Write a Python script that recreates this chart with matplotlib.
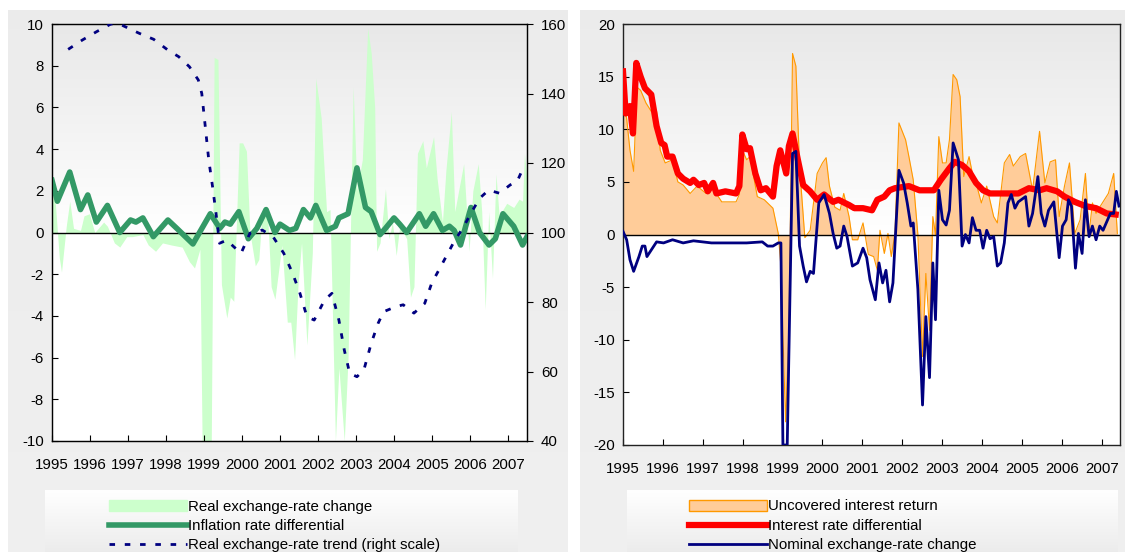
import matplotlib.pyplot as plt
import numpy as np
from matplotlib.lines import Line2D
from matplotlib.patches import Patch

plt.rcParams["font.family"] = ["Liberation Sans", "DejaVu Sans"]
plt.rcParams["axes.unicode_minus"] = False

# months since Jan 1995
YEARS = list(range(1995, 2008))

real_fx_m = [0, 1.1, 2.3, 3, 4.5, 5.6, 6.8, 9, 10.1, 11.8, 13.5, 16.3, 17.5, 19.7, 21.4, 23.6, 25.3, 28.7,
             30.4, 32.7, 34.9, 37.7, 41.1, 43.4, 45, 46.7, 47.4, 50.3, 51.2, 52.4, 53.5, 55.2, 56.3, 57.4,
             59.1, 60.2, 61.4, 62.5, 64.2, 65.3, 66.4, 68.1, 69.2, 70.4, 72.6, 74.3, 75.4, 76.6, 77.7, 78.8,
             80.5, 82.2, 83.3, 85, 86.7, 87.8, 89.5, 90.6, 92.3, 93.5, 95.1, 96.3, 98, 99.7, 100.8, 101.9,
             102.5, 103.6, 105.3, 106.4, 107.5, 108.7, 109.8, 112, 113.2, 114.3, 115.4, 117.1, 118.2, 120.5,
             121.6, 123.3, 124.4, 126.1, 127.2, 128.4, 130, 131.7, 132.9, 134.6, 135.7, 136.8, 137.9, 139.1,
             140.2, 141.3, 142.4, 143.6, 145.8, 147.5, 148.6, 149.2, 150]
real_fx = [2.4, 1.3, -1.2, -1.9, 0.3, 1.5, 0.2, 0.1, 0.8, 0.9, 0, 0.5, 0.3, -0.5, -0.7, -0.2, -0.2, -0.1,
           -0.6, -0.9, -0.5, -0.6, -0.7, -1.4, -1.7, -0.8, -10, -10, 8.4, 8.3, -2.5, -4.1, -3.1, -3.3,
           4.3, 4.3, 3.9, 0, -1.6, -1.3, 1.0, 0.8, -2.6, -3.2, -0.6, -4.3, -4.3, -6.1, -2.5, -0.5,
           -5.4, -1.0, 7.4, 5.5, 1.0, 1.1, -10, -6.5, -10, -6.0, 7.0, 2.0, 3.5, 9.8, 8.6, 6.0,
           -0.9, -0.5, 2.1, -0.3, 0.5, -1.1, 0.3, -0.3, -3.1, -2.6, 3.8, 4.4, 3.1, 4.6,
           2.6, 0.5, 3.0, 5.8, 1.0, 2.0, 3.3, -0.9, 2.0, 3.3, 1.0, -3.7, 1.0, -2.2,
           2.8, 0.6, 1.1, 1.4, 1.2, 1.6, 1.5, 3.8, 2.5]

infl_m = [0, 1.7, 5.6, 9, 11.3, 14, 17.5, 21.4, 24.8, 26.5, 28.7, 32, 36.6, 39.4, 44.5, 50, 53, 54.6, 56.3,
          59, 62, 64.7, 67.6, 70.4, 72, 75, 77, 79.4, 81.6, 83.3, 86.7, 89.5, 90.6, 93.5, 96.3, 99, 100.8,
          103.6, 105.3, 108, 109.8, 112, 116, 118, 120.5, 123.3, 125.5, 127, 129, 132.3, 135, 138, 140,
          142.4, 145.8, 148.6, 150]
infl = [2.5, 1.5, 2.9, 1.1, 1.8, 0.5, 1.3, 0.0, 0.6, 0.5, 0.7, -0.2, 0.6, 0.2, -0.55, 0.9, 0.2, 0.5, 0.4,
        1.0, -0.3, 0.2, 1.1, 0.0, 0.4, 0.1, 0.2, 1.1, 0.7, 1.3, 0.1, 0.3, 0.7, 0.9, 3.1, 1.2, 1.0,
        -0.1, 0.2, 0.7, 0.4, 0.0, 0.9, 0.3, 0.9, 0.1, 0.3, 0.1, -0.6, 1.2, 0.0, -0.6, -0.3,
        0.9, 0.3, -0.6, -0.2]

trend_m = [5.1, 9.6, 14.1, 18.6, 22, 27.6, 32.1, 36.6, 40, 43.4, 46.2, 47.3, 48.4, 49.5, 50.7, 51.8, 52.9,
           55.2, 57.4, 59.7, 62.5, 66.4, 69.8, 73.2, 76, 78.3, 80.5, 82.8, 86.1, 88.4, 90.6, 92.3, 94,
           96.3, 98.5, 100.8, 103, 104.7, 108.7, 110.9, 114.3, 117.7, 119.9, 123.3, 126.7, 130, 132.9,
           135.1, 137.9, 141.3, 144.7, 146.9, 149.2]
trend = [152.7, 155.4, 157.8, 160, 159.7, 157.3, 155.6, 152.5, 150.6, 147.7, 143.9, 140.0, 130.5, 120.9,
         113.2, 105.5, 96.9, 97.8, 95.9, 94.0, 99.8, 100.7, 98.8, 94.0, 88.2, 82.5, 75.8, 74.8, 80.6,
         82.5, 74.8, 66.2, 59.5, 58.5, 60.5, 68.1, 73.9, 77.2, 78.7, 79.2, 76.8, 79.6, 85.4, 91.1, 96.9,
         101.7, 106.5, 109.9, 112.2, 111.3, 113.7, 114.7, 119.4]

uir_m = [0, 1.1, 2.1, 3.2, 4.2, 5.3, 6.9, 8.5, 10.1, 11.2, 12.7, 14.9, 16.5, 18.1, 20.2, 22.3, 25, 26.6,
         29.7, 34, 35, 35.9, 37.2, 38.2, 40.4, 42.5, 45.1, 46.7, 47.5, 48.9, 49.9, 51, 52, 53.1, 54.7,
         56.3, 58.4, 60, 61.1, 62.1, 63.7, 65.3, 66.4, 68, 69, 70.6, 72.2, 73.8, 75.4, 76.5, 77.3, 78.6,
         79.7, 80.7, 81.8, 83, 85, 86, 87.3, 88.7, 90.1, 91.1, 92.2, 93.2, 94, 95, 96.1, 97.2, 98.2,
         99.3, 100.4, 101.4, 102.5, 104.1, 105.1, 106.2, 107.8, 109.4, 111.5, 112.6, 114.7, 116.3, 117.4,
         119.5, 121.1, 123.2, 125.3, 126.9, 128.5, 130.1, 131.2, 132.8, 134.3, 135.9, 137.5, 139.1,
         140.2, 141.2, 142.3, 143.4, 146, 147.6, 148.7]
uir = [12.8, 11, 8, 6, 14, 13.7, 12.5, 11.7, 11.7, 8, 6.8, 7.1, 5, 4.7, 3.9, 4.6, 3.9, 4.6,
       3.1, 3.1, 3.8, 8, 7.1, 7.4, 3.6, 3.3, 2.5, 0.1, -3, -17.8, -9.4, 17.2, 16, 6.5, -0.3,
       0.4, 5.8, 6.8, 7.3, 4.6, 2.6, 2.3, 3.9, 1.7, -0.5, -0.5, 1.1, -1.9, -2.1, -3.4, 0.4, -1.8,
       0.1, -2.1, 0.1, 10.6, 9, 7.4, 5.2, 0, -11.6, -3.7, -9.1, 1.7, 0, 9.3, 6.8, 6.8, 9,
       15.2, 14.7, 13.1, 5.5, 7.4, 5.8, 4.9, 3, 4.6, 1.7, 1.1, 6.8, 7.6, 6.5,
       7.4, 7.7, 4.2, 9.8, 4.9, 6.9, 7.1, 1.7, 4.6, 6.8, 0.1, 1.4, 5.8,
       0.1, 3, 2, 2.6, 3.9, 5.8, 0.1]

ird_m = [0, 0.8, 2.1, 3, 4, 5.3, 6.6, 8.5, 10.1, 11.5, 12.5, 13.3, 14.9, 16.5, 18.1, 20.2, 21.2, 22.8, 24.4,
         25.5, 27.1, 28.1, 30.8, 34, 35, 35.9, 37.2, 38.2, 39.8, 41.4, 43, 45.1, 46.2, 47.3, 49.1, 49.9,
         51, 52.6, 54.2, 56.3, 58.4, 60.5, 63.2, 64.8, 68, 69.6, 72.2, 74.9, 76.5, 78.6, 80.2, 81.8, 86,
         89.2, 93.5, 95.6, 98.2, 99.8, 102, 104.1, 106.2, 108.3, 110.4, 114.7, 118.9, 122.1, 125.3,
         127.4, 130.6, 132.8, 135.9, 139.1, 142.3, 145.5, 148.2]
ird = [15.5, 11.5, 12.2, 9.6, 16.3, 15, 13.9, 13.3, 10.3, 8.7, 8.5, 7.4, 7.4, 5.8, 5.3, 4.9, 5.2, 4.7, 4.9,
       4.1, 4.9, 3.9, 4.1, 3.9, 4.6, 9.5, 8.1, 8.2, 5.8, 4.2, 4.4, 3.6, 6.5, 8.0, 5.8, 8.4,
       9.6, 7.1, 4.7, 4.1, 3.3, 3.8, 3.1, 3.3, 2.8, 2.5, 2.5, 2.3, 3.3, 3.6, 4.2, 4.4, 4.6,
       4.2, 4.2, 5.2, 6.3, 6.9, 6.6, 6.0, 4.9, 4.2, 3.9, 3.9, 3.9, 4.4, 4.2,
       4.4, 4.1, 3.6, 3.1, 2.7, 2.5, 2.0, 1.9]

nom_m = [0, 1.1, 2.1, 3.2, 4.8, 5.8, 6.6, 7.2, 10.1, 12.2, 14.9, 18.1, 21.2, 26.6, 31.9, 37.2, 41.9, 43.5,
         45.1, 46.7, 47.5, 48.1, 49.4, 51, 52, 53.1, 54.2, 55.2, 56.3, 57.3, 58.9, 60.5, 62.1, 63.2, 64.3,
         65.3, 66.4, 67.4, 69, 70.6, 72.2, 73.3, 74.3, 75.9, 77, 78.1, 79.1, 80.2, 81.2, 83, 84.4, 85.5,
         86.6, 87.3, 88.7, 90.1, 91.1, 92.2, 93.2, 94, 95, 96.1, 97.2, 98.2, 99.3, 100.9, 102, 103,
         104.1, 105.1, 106.2, 107.3, 108.3, 109.4, 110.4, 111.5, 112.6, 113.6, 114.7, 115.8, 116.8,
         117.9, 118.9, 121.1, 122.1, 123.2, 124.8, 125.8, 126.9, 128, 129.6, 131.2, 132.2, 133.3, 134,
         134.9, 136.1, 137, 138.1, 139.1, 140.2, 141.2, 142.3, 143.4, 144.4, 146.6, 147.6, 148.4, 149.2]
nom = [0.3, -0.5, -2.4, -3.5, -2.1, -1.1, -1.1, -2.1, -0.7, -0.8, -0.5, -0.8, -0.6, -0.8, -0.8, -0.8, -0.7, -1.1,
       -1.1, -0.8, -0.8, -20, -20, 7.7, 7.9, -1.1, -3.0, -4.5, -3.5, -3.7, 3.0, 3.8, 2.0, 0.1, -1.3,
       -1.1, 0.8, -0.2, -3.0, -2.7, -1.3, -2.2, -4.3, -6.2, -2.7, -4.6, -3.4, -6.4, -4.6, 6.1, 4.9, 3.0,
       0.8, 1.1, -5.2, -16.2, -7.8, -13.6, -2.7, -8.1, 4.2, 1.4, 0.9, 2.3, 8.7, 7.1, -1.1, 0,
       -0.8, 1.6, 0.4, 0.4, -1.3, 0.4, -0.4, -0.2, -3.0, -2.7, -0.8, 3.0, 3.8,
       2.5, 3.1, 3.6, 0.8, 2.0, 5.5, 2.0, 0.8, 2.3, 3.1, -2.2, 0.8, 1.4, 3.3,
       2.7, -3.2, 0.1, -1.8, 3.3, -0.2, 0.8, -0.5, 0.8, 0.4, 2.0, 2.0, 4.1, 2.7]

W, H = 1125, 552
fig = plt.figure(figsize=(W / 100, H / 100), dpi=100)


def fig_rect(x0, y0, x1, y1):
    return [x0 / W, 1 - y1 / H, (x1 - x0) / W, (y1 - y0) / H]


def gradient(rect, top, bottom, z=-10):
    bg = fig.add_axes(rect, zorder=z)
    g = np.linspace(0, 1, 256)[:, None]
    c0, c1 = np.array(top), np.array(bottom)
    img = c0[None, None, :] * (1 - g[..., None]) + c1[None, None, :] * g[..., None]
    bg.imshow(img, aspect="auto", extent=[0, 1, 0, 1])
    bg.axis("off")


gray = (0.925, 0.925, 0.925)
white = (1, 1, 1)
for x0, x1 in [(8, 568), (580, 1125)]:
    gradient(fig_rect(x0, 10, x1, 552), gray, (0.94, 0.94, 0.94), z=-20)
for x0, x1 in [(45, 518), (627, 1118)]:
    gradient(fig_rect(x0, 490, x1, 552), white, gray, z=-15)

tick_pos = [12 * (y - 1995) for y in YEARS]
FS = 10.8


def style(ax, xmax):
    g = np.linspace(0, 1, 256)[:, None]
    ax.set_facecolor("none")
    ax.imshow(np.dstack([np.interp(g, [0, 0.5, 1], [0.91, 1, 1])] * 3), aspect="auto",
              extent=[0, xmax, ax.get_ylim()[0], ax.get_ylim()[1]], zorder=-5,
              transform=ax.transData)
    ax.set_xlim(0, xmax)
    ax.set_xticks(tick_pos)
    ax.set_xticklabels([str(y) for y in YEARS], fontsize=FS)
    ax.tick_params(direction="in", length=4, labelsize=FS, pad=12)
    ax.tick_params(axis="y", pad=6)
    ax.axhline(0, color="black", lw=1, zorder=2)
    for s in ax.spines.values():
        s.set_color("#222222")
        s.set_linewidth(1)


# left panel
ax1 = fig.add_axes(fig_rect(52, 24, 527, 441))
ax1.set_ylim(-10, 10)
ax1.set_yticks(range(-10, 11, 2))
ax1.fill_between(real_fx_m, real_fx, 0, color="#ccffcc", lw=0, zorder=1)
ax1.plot(infl_m, infl, color="#339966", lw=4, zorder=4)
style(ax1, 150)
ax1b = ax1.twinx()
ax1b.set_ylim(40, 160)
ax1b.set_yticks(range(40, 161, 20))
ax1b.tick_params(direction="out", length=4, labelsize=FS, pad=6)
ax1b.plot(trend_m, trend, color="#000080", lw=2, ls=(0, (2, 3.5)), zorder=5)

# right panel
ax2 = fig.add_axes(fig_rect(623, 24, 1120, 445))
ax2.set_ylim(-20, 20)
ax2.set_yticks(range(-20, 21, 5))
ax2.fill_between(uir_m, uir, 0, color="#ffcc99", lw=0, zorder=1)
ax2.plot(uir_m, uir, color="#ff9900", lw=0.8, zorder=2)
ax2.plot(ird_m, ird, color="#ff0000", lw=4.5, zorder=4)
ax2.plot(nom_m, nom, color="#000080", lw=2, zorder=5)
style(ax2, 149.5)

leg_kw = dict(frameon=False, fontsize=FS, handlelength=5.2, handletextpad=0.1,
              labelspacing=0.35, loc="upper left")
fig.legend(handles=[Patch(color="#ccffcc"),
                    Line2D([], [], color="#339966", lw=4),
                    Line2D([], [], color="#000080", lw=2, ls=(0, (2, 3.5)))],
           labels=["Real exchange-rate change", "Inflation rate differential",
                   "Real exchange-rate trend (right scale)"],
           bbox_to_anchor=(95 / W, 1 - 486 / H), **leg_kw)
fig.legend(handles=[Patch(facecolor="#ffcc99", edgecolor="#ff9900"),
                    Line2D([], [], color="#ff0000", lw=4.5),
                    Line2D([], [], color="#000080", lw=2)],
           labels=["Uncovered interest return", "Interest rate differential",
                   "Nominal exchange-rate change"],
           bbox_to_anchor=(675 / W, 1 - 486 / H), **leg_kw)

fig.savefig("out.png", dpi=100)
